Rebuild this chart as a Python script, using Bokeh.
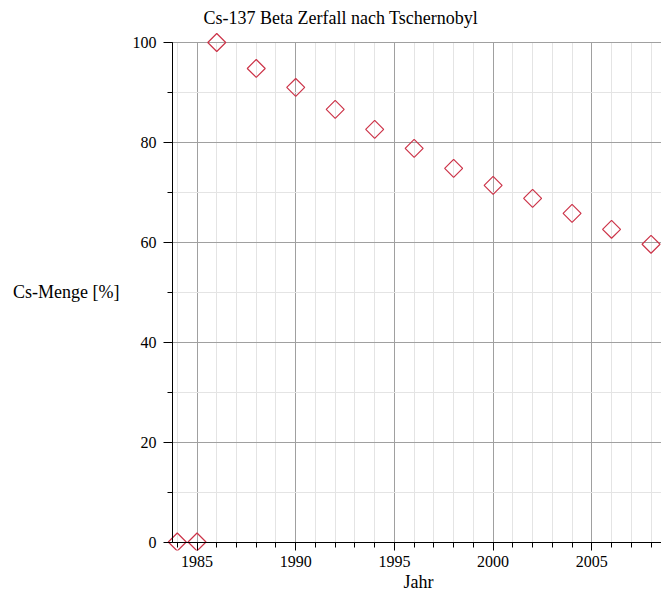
from bokeh.plotting import figure
from bokeh.models import Range1d, SingleIntervalTicker, Title, LinearAxis
from bokeh.embed import file_html
from bokeh.resources import INLINE
import math

years = [1984, 1985, 1986, 1988, 1990, 1992, 1994, 1996, 1998, 2000, 2002, 2004, 2006, 2008]
amount = [0, 0, 100, 94.8, 91.0, 86.6, 82.6, 78.8, 74.8, 71.4, 68.8, 65.8, 62.6, 59.6]

title_text = "Cs-137 Beta Zerfall nach Tschernobyl"
x_label = "Jahr"
y_label = "Cs-Menge [%]"

X_START, X_END = 1983.75, 2008.53
Y_START, Y_END = 0, 100

FONT = "Liberation Serif"

p = figure(width=661, height=591, output_backend="svg", toolbar_location=None,
           x_range=Range1d(X_START - 0.6, X_END), y_range=Range1d(Y_START - 1.7, Y_END + 2),
           min_border_left=160, min_border_right=0, min_border_top=31, min_border_bottom=41)
p.outline_line_color = None
p.background_fill_color = "white"
p.border_fill_color = "white"

t = Title(text=title_text, align="left", offset=43, text_font=FONT,
          text_font_size="18px", text_font_style="normal", text_color="black")
p.add_layout(t, "above")


def xticker():
    return SingleIntervalTicker(interval=5, num_minor_ticks=5)


def yticker():
    return SingleIntervalTicker(interval=20, num_minor_ticks=2)


# label-only axes at the frame edges
p.xaxis.ticker = xticker()
p.yaxis.ticker = yticker()
for ax in (p.xaxis, p.yaxis):
    ax.axis_line_color = None
    ax.major_tick_line_color = None
    ax.minor_tick_line_color = None
    ax.major_tick_in = 0
    ax.major_tick_out = 0
    ax.minor_tick_in = 0
    ax.minor_tick_out = 0
    ax.major_label_text_font = FONT
    ax.major_label_text_font_size = "16px"
    ax.major_label_text_color = "black"
    ax.axis_label_text_font = FONT
    ax.axis_label_text_font_size = "18px"
    ax.axis_label_text_font_style = "normal"
    ax.axis_label_text_color = "black"
p.yaxis.axis_label = y_label
p.yaxis.axis_label_orientation = "horizontal"
p.xaxis.major_label_standoff = 5
p.yaxis.major_label_standoff = 4
p.yaxis.axis_label_standoff = 10

# line/tick axes at the data origin
x_line = LinearAxis(ticker=xticker(), fixed_location=Y_START, bounds=(X_START, X_END))
y_line = LinearAxis(ticker=yticker(), fixed_location=X_START, bounds=(Y_START, Y_END))
for ax in (x_line, y_line):
    ax.axis_line_color = "black"
    ax.major_tick_line_color = "black"
    ax.minor_tick_line_color = "black"
    ax.major_tick_in = 0
    ax.minor_tick_in = 0
    ax.major_tick_out = 9
    ax.minor_tick_out = 5
    ax.major_label_text_alpha = 0
    ax.major_label_text_font_size = "1px"
p.add_layout(x_line, "below")
p.add_layout(y_line, "left")

# x-axis title under the tick labels
xt = Title(text=x_label, align="left", offset=243, standoff=0, text_font=FONT,
           text_font_size="18px", text_font_style="normal", text_color="black")
p.add_layout(xt, "below")

for g in (p.xgrid, p.ygrid):
    g.grid_line_color = "#a0a0a0"
    g.grid_line_width = 1
    g.minor_grid_line_color = "#e4e4e4"
    g.minor_grid_line_width = 1
p.xgrid.bounds = (X_START, X_END)
p.ygrid.bounds = (Y_START, Y_END)
p.xgrid.cross_bounds = (Y_START, Y_END)
p.ygrid.cross_bounds = (X_START, X_END)

p.scatter(years, amount, marker="square", size=12.7, angle=math.pi / 4,
          fill_color=None, line_color="#cc3348", line_width=1.2)

open("out.html", "w").write(file_html(p, INLINE))
